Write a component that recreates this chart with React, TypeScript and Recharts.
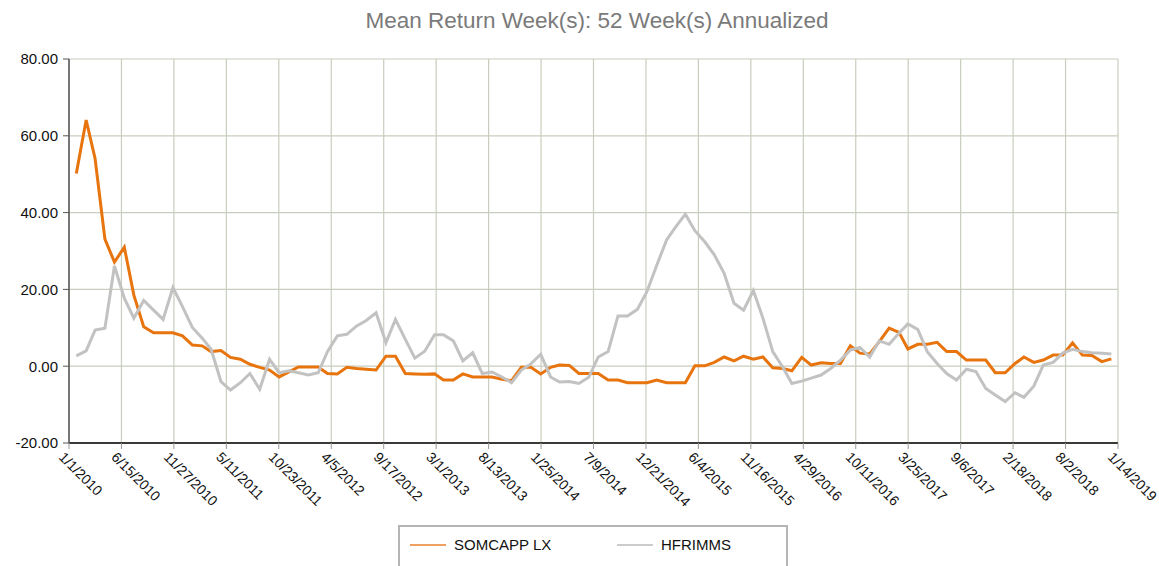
import React from "react";
import { LineChart, Line, XAxis, YAxis, CartesianGrid } from "recharts";

const FONT = "'Liberation Sans', Arial, sans-serif";

const TITLE = "Mean Return Week(s): 52 Week(s) Annualized";
const SERIES_NAMES = ["SOMCAPP LX", "HFRIMMS"];
const SERIES_COLORS = ["#E8740E", "#C2C2C2"];

// monthly observations Jan 2010 .. Dec 2018
const START_YEAR = 2010;
const OBS_DAY = 24;

const somcapp = [
  50.2, 64.1, 54.1, 33.1, 27.1, 31.0, 18.5, 10.3, 8.7, 8.7, 8.7, 7.9,
  5.5, 5.3, 3.8, 4.1, 2.3, 1.8, 0.5, -0.3, -1.0, -2.8, -1.5, -0.2,
  -0.2, -0.2, -1.9, -2.0, -0.3, -0.6, -0.8, -1.0, 2.6, 2.6, -1.9, -2.0,
  -2.1, -2.0, -3.6, -3.6, -2.0, -2.8, -2.8, -2.8, -3.4, -3.8, -0.3, -0.3,
  -2.0, -0.3, 0.3, 0.2, -1.9, -1.9, -1.9, -3.6, -3.6, -4.3, -4.3, -4.3,
  -3.6, -4.3, -4.3, -4.3, 0.1, 0.1, 1.0, 2.4, 1.4, 2.6, 1.8, 2.4,
  -0.4, -0.6, -1.2, 2.3, 0.3, 0.9, 0.7, 0.7, 5.3, 3.4, 3.2, 6.4,
  9.9, 8.8, 4.5, 5.7, 5.7, 6.2, 3.8, 3.8, 1.6, 1.6, 1.6, -1.7,
  -1.7, 0.7, 2.4, 1.0, 1.6, 2.9, 2.9, 6.1, 2.9, 2.8, 1.2, 1.9,
];

const hfrimms = [
  2.7, 4.0, 9.4, 9.9, 26.1, 17.7, 12.5, 17.1, 14.6, 12.2, 20.5, 15.5,
  10.1, 7.3, 4.4, -4.0, -6.2, -4.3, -1.9, -6.0, 1.8, -1.7, -1.2, -1.7,
  -2.3, -1.7, 3.8, 7.9, 8.3, 10.5, 11.9, 13.9, 6.1, 12.2, 7.0, 2.1,
  3.9, 8.2, 8.2, 6.6, 1.4, 3.5, -1.9, -1.5, -2.8, -4.3, -1.0, 0.6,
  3.1, -2.8, -4.1, -4.0, -4.5, -2.9, 2.4, 3.8, 13.1, 13.1, 14.8, 19.4,
  26.3, 32.9, 36.2, 39.6, 35.3, 32.4, 29.0, 24.2, 16.4, 14.6, 19.7, 12.5,
  3.8, -0.2, -4.5, -3.9, -3.1, -2.3, -0.6, 1.6, 4.2, 4.9, 2.4, 6.6,
  5.7, 8.6, 11.0, 9.6, 3.8, 0.7, -1.9, -3.6, -0.8, -1.4, -5.8, -7.5,
  -9.2, -6.9, -8.1, -5.2, 0.3, 1.0, 3.4, 4.4, 3.8, 3.5, 3.4, 3.2,
];

const xTickLabels = [
  "1/1/2010", "6/15/2010", "11/27/2010", "5/11/2011", "10/23/2011", "4/5/2012",
  "9/17/2012", "3/1/2013", "8/13/2013", "1/25/2014", "7/9/2014", "12/21/2014",
  "6/4/2015", "11/16/2015", "4/29/2016", "10/11/2016", "3/25/2017", "9/6/2017",
  "2/18/2018", "8/2/2018", "1/14/2019",
];

const yTicks = [-20, 0, 20, 40, 60, 80];

const parseDate = (s: string) => {
  const [m, d, y] = s.split("/").map(Number);
  return Date.UTC(y, m - 1, d);
};

const xTicks = xTickLabels.map(parseDate);

const data = somcapp.map((v, i) => ({
  t: Date.UTC(START_YEAR, i, OBS_DAY),
  somcapp: v,
  hfrimms: hfrimms[i],
}));

const fmtDate = (v: number) => {
  const d = new Date(v);
  return `${d.getUTCMonth() + 1}/${d.getUTCDate()}/${d.getUTCFullYear()}`;
};

const XTick = (props: any) => {
  const { x, y, payload } = props;
  const ax = x - 11;
  const ay = y + 7;
  return (
    <text
      transform={`translate(${ax},${ay}) rotate(45)`}
      textAnchor="start"
      fontSize={14}
      fontFamily={FONT}
      fill="#111"
    >
      {fmtDate(payload.value)}
    </text>
  );
};

export default function App() {
  return (
    <div style={{ position: "absolute", left: 0, top: 0, width: 1159, height: 566, background: "#fff", fontFamily: FONT }}>
      <div
        style={{
          position: "absolute",
          left: 0,
          top: 8,
          width: 1194,
          textAlign: "center",
          fontSize: 22.5,
          color: "#7a7a7a",
          whiteSpace: "nowrap",
        }}
      >
        {TITLE}
      </div>
      <LineChart
        width={1159}
        height={566}
        data={data}
        margin={{ top: 59, right: 41, bottom: 43, left: 0 }}
      >
        <CartesianGrid stroke="#c8cebd" strokeWidth={1.2} />
        <XAxis
          dataKey="t"
          type="number"
          domain={[xTicks[0], xTicks[xTicks.length - 1]]}
          ticks={xTicks}
          interval={0}
          height={80}
          tick={<XTick />}
          tickLine={{ stroke: "#999" }}
          axisLine={{ stroke: "#000", strokeWidth: 1.5 }}
        />
        <YAxis
          type="number"
          domain={[-20, 80]}
          ticks={yTicks}
          interval={0}
          width={69}
          tickMargin={5}
          tickFormatter={(v: number) => v.toFixed(2)}
          tick={{ fontSize: 15, fill: "#111", fontFamily: FONT }}
          tickLine={{ stroke: "#555" }}
          axisLine={{ stroke: "#555", strokeWidth: 1.5 }}
        />
        <Line
          type="linear"
          dataKey="somcapp"
          stroke={SERIES_COLORS[0]}
          strokeWidth={3}
          dot={false}
          isAnimationActive={false}
        />
        <Line
          type="linear"
          dataKey="hfrimms"
          stroke={SERIES_COLORS[1]}
          strokeWidth={3}
          dot={false}
          isAnimationActive={false}
        />
      </LineChart>
      <div
        style={{
          position: "absolute",
          left: 398,
          top: 525,
          width: 390,
          height: 60,
          border: "2px solid #b5b5b5",
          boxSizing: "border-box",
        }}
      />
      {SERIES_NAMES.map((name, i) => (
        <div
          key={name}
          style={{
            position: "absolute",
            left: i === 0 ? 410 : 617,
            top: 536,
            display: "flex",
            alignItems: "center",
            fontSize: 15,
            color: "#111",
            whiteSpace: "nowrap",
          }}
        >
          <span
            style={{
              display: "inline-block",
              width: 36,
              height: 2,
              background: i === 0 ? "#f0a060" : "#cccccc",
              marginRight: 8,
            }}
          />
          {name}
        </div>
      ))}
    </div>
  );
}
